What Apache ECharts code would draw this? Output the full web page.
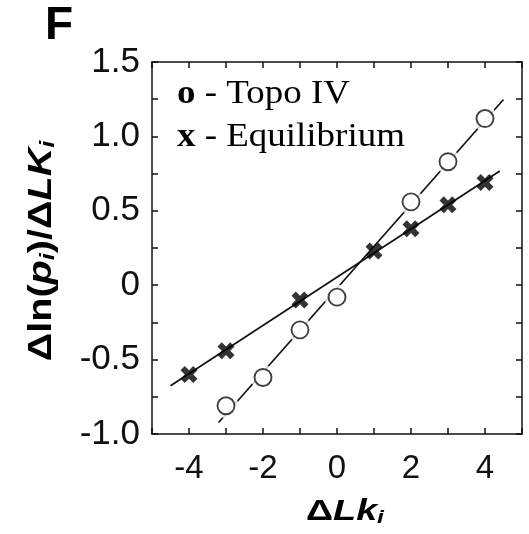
<!DOCTYPE html>
<html>
<head>
<meta charset="utf-8">
<script src="https://cdn.jsdelivr.net/npm/echarts@6/dist/echarts.min.js"></script>
<style>html,body{margin:0;padding:0;background:#fff}#c{width:529px;height:534px}</style>
</head>
<body>
<div id="c"></div>
<script>
// ---- data ----
const topoX = [-3, -2, -1, 0, 2, 3, 4];
const topoY = [-0.81, -0.62, -0.30, -0.08, 0.56, 0.83, 1.12];
const eqX = [-4, -3, -1, 1, 2, 3, 4];
const eqY = [-0.60, -0.44, -0.10, 0.23, 0.38, 0.54, 0.69];
// x-extent over which each fitted line is drawn
const topoFitSpan = [-3.2, 4.5];
const eqFitSpan = [-4.5, 4.4];
// tick labels
const xTickValues = [-4, -2, 0, 2, 4];
const xTickLabels = ['-4', '-2', '0', '2', '4'];
const yTickValues = [-1, -0.5, 0, 0.5, 1, 1.5];
const yTickLabels = ['-1.0', '-0.5', '0', '0.5', '1.0', '1.5'];
const legendNames = ['Topo IV', 'Equilibrium'];

function fitLine(xs, ys, span) {
  const n = xs.length;
  const mx = xs.reduce((a, b) => a + b, 0) / n;
  const my = ys.reduce((a, b) => a + b, 0) / n;
  let sxy = 0, sxx = 0;
  for (let i = 0; i < n; i++) { sxy += (xs[i] - mx) * (ys[i] - my); sxx += (xs[i] - mx) * (xs[i] - mx); }
  const b = sxy / sxx, a = my - b * mx;
  return span.map(x => [x, a + b * x]);
}
const zip = (xs, ys) => xs.map((x, i) => [x, ys[i]]);

const SANS = '"Liberation Sans", Arial, sans-serif';
const SERIF = '"Liberation Serif", "Times New Roman", serif';
const INK = '#111';
const crossPath = 'path://M2.5,0 L5,2.5 L7.5,0 L10,2.5 L7.5,5 L10,7.5 L7.5,10 L5,7.5 L2.5,10 L0,7.5 L2.5,5 L0,2.5 Z';

function labelFrom(values, labels) {
  return v => {
    const i = values.findIndex(t => Math.abs(t - v) < 1e-9);
    return i >= 0 ? labels[i] : '';
  };
}

const axisLine = { show: true, onZero: false, lineStyle: { color: INK, width: 1.5 } };
const tick = { show: true, inside: true, length: 6, lineStyle: { color: INK, width: 1.5 } };

const chart = echarts.init(document.getElementById('c'), null, { renderer: 'canvas' });
chart.setOption({
  backgroundColor: '#fff',
  animation: false,
  grid: { left: 152, right: 7, top: 62, bottom: 100, containLabel: false },
  xAxis: [
    { type: 'value', min: -5, max: 5, interval: 1, position: 'bottom',
      axisLine, axisTick: tick, splitLine: { show: false },
      axisLabel: { formatter: labelFrom(xTickValues, xTickLabels), fontSize: 33, fontFamily: SANS, color: INK, margin: 18, showMinLabel: true, showMaxLabel: true } },
    { type: 'value', min: -5, max: 5, interval: 1, position: 'top',
      axisLine, axisTick: tick, splitLine: { show: false }, axisLabel: { show: false } }
  ],
  yAxis: [
    { type: 'value', min: -1, max: 1.5, interval: 0.5, position: 'left',
      axisLine, axisTick: tick, splitLine: { show: false },
      minorTick: { show: true, splitNumber: 2, length: 6, lineStyle: { color: INK, width: 1.5 } },
      axisLabel: { formatter: labelFrom(yTickValues, yTickLabels), fontSize: 35, fontFamily: SANS, color: INK, margin: 12 } },
    { type: 'value', min: -1, max: 1.5, interval: 0.5, position: 'right',
      axisLine, axisTick: tick, splitLine: { show: false },
      minorTick: { show: true, splitNumber: 2, length: 6, lineStyle: { color: INK, width: 1.5 } },
      axisLabel: { show: false } }
  ],
  series: [
    { name: legendNames[1] + ' fit', type: 'line', data: fitLine(eqX, eqY, eqFitSpan), showSymbol: false, symbol: 'none',
      lineStyle: { color: INK, width: 1.7 }, z: 2, silent: true },
    { name: legendNames[0] + ' fit', type: 'line', data: fitLine(topoX, topoY, topoFitSpan), showSymbol: false, symbol: 'none',
      lineStyle: { color: INK, width: 1.7 }, z: 2, silent: true },
    { name: legendNames[0] + ' halo', type: 'scatter', data: zip(topoX, topoY), symbol: 'circle', symbolSize: 25,
      itemStyle: { color: '#fff', borderWidth: 0 }, z: 3, silent: true },
    { name: legendNames[0], type: 'scatter', data: zip(topoX, topoY), symbol: 'circle', symbolSize: 17,
      itemStyle: { color: '#fff', borderColor: INK, borderWidth: 1.9 }, z: 4 },
    { name: legendNames[1], type: 'scatter', data: zip(eqX, eqY), symbol: crossPath, symbolSize: 17,
      itemStyle: { color: '#000' }, z: 5 }
  ],
  graphic: [
    { type: 'text', x: 45, y: 3, style: { text: 'F', font: 'bold 46px ' + SANS, fill: '#000', verticalAlign: 'top' } },
    { type: 'text', x: 177, y: 73, scaleX: 1.12, style: {
        text: '{b|o}{r| - ' + legendNames[0] + '}\n{b|x}{r| - ' + legendNames[1] + '}',
        verticalAlign: 'top', fill: '#000',
        rich: { b: { fontFamily: SERIF, fontWeight: 'bold', fontSize: 33, lineHeight: 43 },
                r: { fontFamily: SERIF, fontSize: 33, lineHeight: 43 } } } },
    { type: 'text', x: 345, y: 512, scaleX: 1.3, style: {
        text: '{d|Δ}{it|Lk}{sub|i}', align: 'center', verticalAlign: 'middle', fill: '#000',
        rich: { d: { fontFamily: SANS, fontWeight: 'bold', fontSize: 29, lineHeight: 30, verticalAlign: 'top' },
                it: { fontFamily: SANS, fontWeight: 'bold', fontStyle: 'italic', fontSize: 29, lineHeight: 30, verticalAlign: 'top' },
                sub: { fontFamily: SANS, fontWeight: 'bold', fontStyle: 'italic', fontSize: 19, lineHeight: 8, verticalAlign: 'bottom' } } } },
    { type: 'text', x: 42, y: 251, rotation: Math.PI / 2, scaleX: 1.2, style: {
        text: '{d|Δln(}{it|p}{sub|i}{d|)/Δ}{it|LK}{sub|i}', align: 'center', verticalAlign: 'middle', fill: '#000',
        rich: { d: { fontFamily: SANS, fontWeight: 'bold', fontSize: 33, lineHeight: 34, verticalAlign: 'top' },
                it: { fontFamily: SANS, fontWeight: 'bold', fontStyle: 'italic', fontSize: 33, lineHeight: 34, verticalAlign: 'top' },
                sub: { fontFamily: SANS, fontWeight: 'bold', fontStyle: 'italic', fontSize: 21, lineHeight: 8, verticalAlign: 'bottom' } } } }
  ]
});
</script>
</body>
</html>
